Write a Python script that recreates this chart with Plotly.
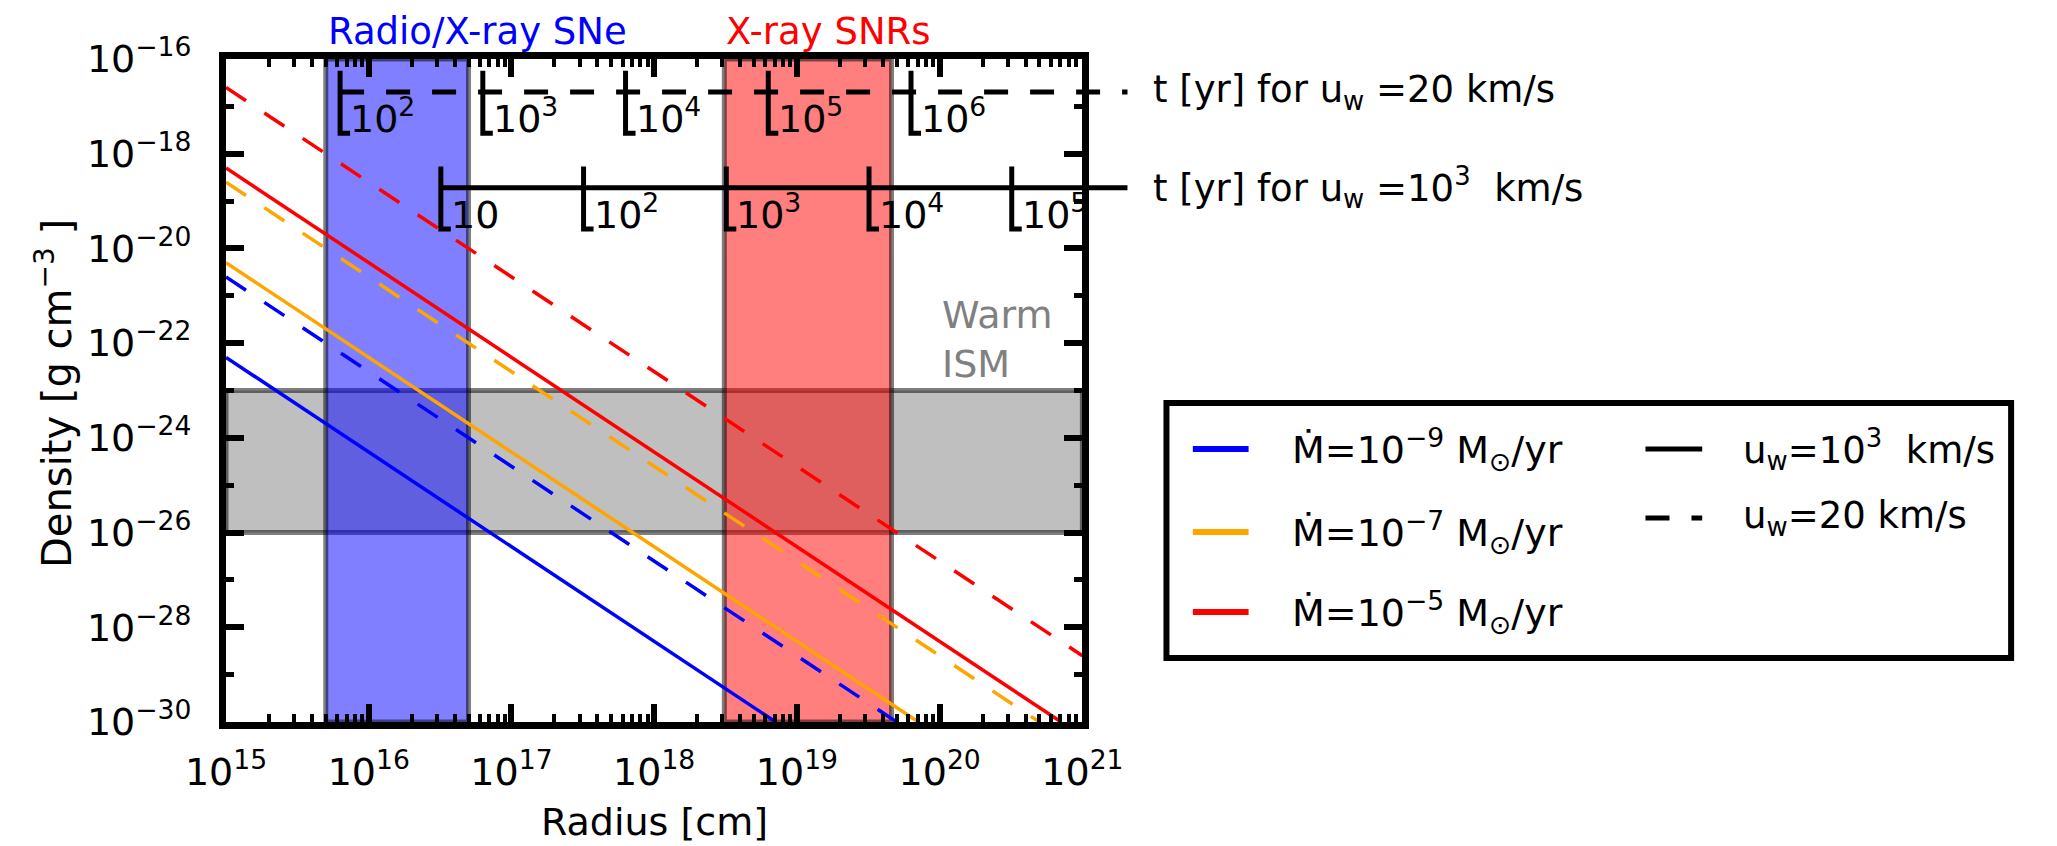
import numpy as np
import plotly.graph_objects as go

# ---------------- data ----------------
mdot_labels = ["10<sup>−9</sup>", "10<sup>−7</sup>", "10<sup>−5</sup>"]
mdot_colors = ["#0000ff", "#ffa500", "#ff0000"]

# wind density profiles, end points of each line (radius [cm], density [g cm^-3])
# u_w = 10^3 km/s (solid)
fast_radius = [[1e15, 7.1e18], [1e15, 7.1e19], [1e15, 7.1e20]]
fast_density = [[5.0e-23, 1.0e-30], [5.0e-21, 1.0e-30], [5.0e-19, 1.0e-30]]
# u_w = 20 km/s (dashed)
slow_radius = [[1e15, 5.0e19], [1e15, 5.0e20], [1e15, 1.0e21]]
slow_density = [[2.5e-21, 1.0e-30], [2.5e-19, 1.0e-30], [2.5e-17, 2.5e-29]]

# shaded regions
sne_band = [5.0e15, 5.0e16]      # radio / X-ray supernovae
snr_band = [3.1e18, 4.6e19]      # X-ray supernova remnants
ism_band = [1.0e-26, 1.0e-23]    # warm ISM densities

# age axes: radius reached after t years
t_slow_labels = ["10<sup>2</sup>", "10<sup>3</sup>", "10<sup>4</sup>", "10<sup>5</sup>", "10<sup>6</sup>"]
t_slow_radius = [6.3e15, 6.3e16, 6.3e17, 6.3e18, 6.3e19]
t_fast_labels = ["10", "10<sup>2</sup>", "10<sup>3</sup>", "10<sup>4</sup>", "10<sup>5</sup>"]
t_fast_radius = [3.2e16, 3.2e17, 3.2e18, 3.2e19, 3.2e20]
guide_end_radius = 2.07e21
slow_guide_density = 2.0e-17
fast_guide_density = 1.9e-19

x_ticks = [1e15, 1e16, 1e17, 1e18, 1e19, 1e20, 1e21]
x_ticktext = ["10<sup>15</sup>", "10<sup>16</sup>", "10<sup>17</sup>", "10<sup>18</sup>",
              "10<sup>19</sup>", "10<sup>20</sup>", "10<sup>21</sup>"]
y_ticks = [1e-30, 1e-28, 1e-26, 1e-24, 1e-22, 1e-20, 1e-18, 1e-16]
y_ticktext = ["10<sup>−30</sup>", "10<sup>−28</sup>", "10<sup>−26</sup>", "10<sup>−24</sup>",
              "10<sup>−22</sup>", "10<sup>−20</sup>", "10<sup>−18</sup>", "10<sup>−16</sup>"]
y_minor = [1e-29, 1e-27, 1e-25, 1e-23, 1e-21, 1e-19, 1e-17]

# ---------------- layout geometry (pixels) ----------------
W, H = 2057, 846
L, R, T, B = 226, 1102, 59, 722
GUIDE_R = 1150
FONT = "DejaVu Sans"
DASH = "24px,22px"


def px(x):
    return (x - L) / (W - L)


def py(y):
    return (B - y) / (B - T)


x_minor = [m * 10.0 ** e for e in range(15, 21) for m in range(2, 10)]
decade_px = (R - L) / 6.0

fig = go.Figure()


def band(xs, ys, fill):
    fig.add_trace(go.Scatter(
        x=[xs[0], xs[1], xs[1], xs[0], xs[0]], y=[ys[0], ys[0], ys[1], ys[1], ys[0]],
        mode="lines", fill="toself", fillcolor=fill,
        line=dict(color="rgba(0,0,0,0.5)", width=5), hoverinfo="skip", showlegend=False))


band([1e15, 1e21], ism_band, "rgba(0,0,0,0.25)")
band(sne_band, [1e-30, 1e-16], "rgba(0,0,255,0.5)")
band(snr_band, [1e-30, 1e-16], "rgba(255,0,0,0.5)")

for i, c in enumerate(mdot_colors):
    fig.add_trace(go.Scatter(x=fast_radius[i], y=fast_density[i], mode="lines",
                             line=dict(color=c, width=3.5), showlegend=False))
    fig.add_trace(go.Scatter(x=slow_radius[i], y=slow_density[i], mode="lines",
                             line=dict(color=c, width=3.5, dash=DASH), showlegend=False))

# age-axis tick marks
TICK_UP, TICK_DOWN, FOOT = 0.45, 0.87, 10 ** 0.07
for radii, rho in ((t_slow_radius, slow_guide_density), (t_fast_radius, fast_guide_density)):
    for r in radii:
        fig.add_trace(go.Scatter(
            x=[r, r, r * FOOT],
            y=[rho * 10 ** TICK_UP, rho * 10 ** -TICK_DOWN, rho * 10 ** -TICK_DOWN],
            mode="lines", line=dict(color="black", width=5), showlegend=False))

# age-axis guide lines (run past the right edge of the frame)
fig.add_trace(go.Scatter(x=[t_slow_radius[0], guide_end_radius], y=[slow_guide_density] * 2,
                         xaxis="x2", yaxis="y", mode="lines",
                         line=dict(color="black", width=5, dash=DASH), showlegend=False))
fig.add_trace(go.Scatter(x=[t_fast_radius[0], guide_end_radius], y=[fast_guide_density] * 2,
                         xaxis="x2", yaxis="y", mode="lines",
                         line=dict(color="black", width=5), showlegend=False))

ann = []
for radii, labels, rho in ((t_slow_radius, t_slow_labels, slow_guide_density),
                           (t_fast_radius, t_fast_labels, fast_guide_density)):
    for r, lab in zip(radii, labels):
        ann.append(dict(x=np.log10(r), y=np.log10(rho) - TICK_DOWN, xref="x", yref="y",
                        text=lab, showarrow=False, xanchor="left", yanchor="bottom",
                        xshift=8, yshift=-10, font=dict(family=FONT, size=38, color="black")))

ann.append(dict(x=px(1172), y=np.log10(slow_guide_density), xref="paper", yref="y",
                text="t [yr] for u<sub>w</sub> =20 km/s", showarrow=False,
                xanchor="left", yanchor="middle", font=dict(family=FONT, size=37, color="black")))
ann.append(dict(x=px(1172), y=np.log10(fast_guide_density), xref="paper", yref="y",
                text="t [yr] for u<sub>w</sub> =10<sup>3</sup>\u00a0\u00a0km/s", showarrow=False,
                xanchor="left", yanchor="middle", font=dict(family=FONT, size=37, color="black")))

# region labels
ann.append(dict(x=np.log10(sne_band[0]), y=py(55), xref="x", yref="paper", text="Radio/X-ray SNe",
                showarrow=False, xanchor="left", yanchor="bottom",
                font=dict(family=FONT, size=37, color="#0000ff")))
ann.append(dict(x=np.log10(snr_band[0]), y=py(55), xref="x", yref="paper", text="X-ray SNRs",
                showarrow=False, xanchor="left", yanchor="bottom",
                font=dict(family=FONT, size=37, color="#ff0000")))
ann.append(dict(x=20.0, y=np.log10(ism_band[1]), xref="x", yref="y", text="Warm<br>ISM",
                showarrow=False, xanchor="left", yanchor="bottom", align="left", yshift=3,
                font=dict(family=FONT, size=38, color="#808080")))

# axis titles
ann.append(dict(x=px((L + R) / 2), y=py(822), xref="paper", yref="paper", text="Radius [cm]",
                showarrow=False, xanchor="center", yanchor="middle",
                font=dict(family=FONT, size=38, color="black")))
ann.append(dict(x=px(50), y=py(393), xref="paper", yref="paper",
                text="Density [g cm<sup>−3</sup> ]", textangle=-90, showarrow=False,
                xanchor="center", yanchor="middle", font=dict(family=FONT, size=40, color="black")))

# legend box
shapes = [dict(type="rect", xref="paper", yref="paper", x0=px(1188), x1=px(2052),
               y0=py(658), y1=py(403), line=dict(color="black", width=6), fillcolor="white",
               layer="above")]
rows1 = [449, 532, 612]
for yy, c, lab in zip(rows1, mdot_colors, mdot_labels):
    shapes.append(dict(type="line", xref="paper", yref="paper", x0=px(1215), x1=px(1272),
                       y0=py(yy), y1=py(yy), line=dict(color=c, width=6), layer="above"))
    ann.append(dict(x=px(1314), y=py(yy), xref="paper", yref="paper",
                    text="Ṁ=" + lab + " M<sub>⊙</sub>/yr", showarrow=False,
                    xanchor="left", yanchor="middle", font=dict(family=FONT, size=38, color="black")))
rows2 = [449, 518]
for yy, dash, lab in zip(rows2, ["solid", DASH],
                         ["u<sub>w</sub>=10<sup>3</sup>\u00a0\u00a0km/s", "u<sub>w</sub>=20 km/s"]):
    shapes.append(dict(type="line", xref="paper", yref="paper", x0=px(1678), x1=px(1736),
                       y0=py(yy), y1=py(yy), line=dict(color="black", width=5, dash=dash),
                       layer="above"))
    ann.append(dict(x=px(1776), y=py(yy), xref="paper", yref="paper", text=lab, showarrow=False,
                    xanchor="left", yanchor="middle", font=dict(family=FONT, size=37, color="black")))

axis_common = dict(type="log", showgrid=False, zeroline=False, showline=True, linewidth=7,
                   linecolor="black", mirror="ticks", ticks="inside", tickcolor="black",
                   ticklen=18, tickwidth=6, tickmode="array",
                   tickfont=dict(family=FONT, size=38, color="black"))

fig.update_layout(
    width=W, height=H, margin=dict(l=L, r=0, t=T, b=H - B, pad=0),
    paper_bgcolor="white", plot_bgcolor="rgba(0,0,0,0)", showlegend=False,
    xaxis=dict(axis_common, range=[15, 21], domain=[0, px(R)], anchor="y",
               tickvals=x_ticks, ticktext=x_ticktext, ticklabelstandoff=10,
               minor=dict(ticks="inside", ticklen=8, tickwidth=4, tickcolor="black",
                          tickvals=x_minor, showgrid=False)),
    yaxis=dict(axis_common, range=[-30, -16], domain=[0, 1], anchor="x",
               tickvals=y_ticks, ticktext=y_ticktext, ticklabelstandoff=20,
               minor=dict(ticks="inside", ticklen=8, tickwidth=5, tickcolor="black",
                          tickvals=y_minor, showgrid=False)),
    xaxis2=dict(type="log", range=[15, 15 + (GUIDE_R - L) / decade_px], domain=[0, px(GUIDE_R)],
                anchor="y", visible=False, showgrid=False, zeroline=False),
    shapes=shapes, annotations=ann,
)

fig.write_html("out.html")
